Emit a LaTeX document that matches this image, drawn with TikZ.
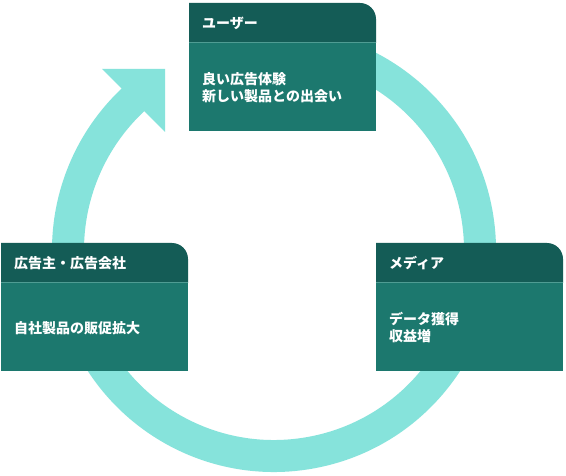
\documentclass[tikz,border=0pt]{standalone}
\usepackage{fontspec}
\setmainfont{Noto Sans CJK JP}
\usetikzlibrary{calc}
\definecolor{cRing}{HTML}{86E3DB}
\definecolor{cHdr}{HTML}{145C56}
\definecolor{cBody}{HTML}{1C786E}
\definecolor{cSep}{HTML}{4F9C93}
\tikzset{
  bodybox/.style={fill=cBody, minimum width=187pt, minimum height=88pt, inner sep=0pt, anchor=north west},
  hdrtxt/.style={text=white, font=\bfseries\fontsize{14}{17}\selectfont, anchor=west, inner sep=0pt},
  bodytxt/.style={text=white, font=\bfseries\fontsize{14}{17}\selectfont, align=left, anchor=west, inner sep=0pt},
  ringline/.style={draw=cRing, line width=32pt},
  seprule/.style={draw=cSep, line width=1pt},
}
\newcommand\card[5]{%
  \fill[cHdr] (#2,#3+40) -- (#2,#3) -- (#2+171,#3) arc[start angle=-90,end angle=0,radius=16] -- (#2+187,#3+40) -- cycle;
  \node[bodybox] (#1) at (#2,#3+40) {};
  \draw[seprule] (#1.north west) -- (#1.north east);
  \node[hdrtxt] (#1-t) at (#2+13,#3+20) {#4};
  \node[bodytxt] (#1-b) at (#2+13,#3+85) {#5};
}
\begin{document}
\begin{tikzpicture}[x=1pt,y=-1pt]
\useasboundingbox[fill=white] (0,0) rectangle (566,476);
\coordinate (c) at (274,250);
\draw[ringline] (c) ++(-100:206) arc[start angle=-100, end angle=228, radius=206];
\coordinate (hb) at ($(c)+(226.8:205.2)$);
\fill[cRing] ($(hb)+(225:44.5)$) -- ($(hb)+(315:44.5)$) -- ($(hb)+(45:44.5)$) -- cycle;
\card{user}{189}{3}{ユーザー}{良い広告体験\\新しい製品との出会い}
\card{adv}{1}{243}{広告主・広告会社}{自社製品の販促拡大}
\card{media}{376}{243}{メディア}{データ獲得\\収益増}
\end{tikzpicture}
\end{document}
